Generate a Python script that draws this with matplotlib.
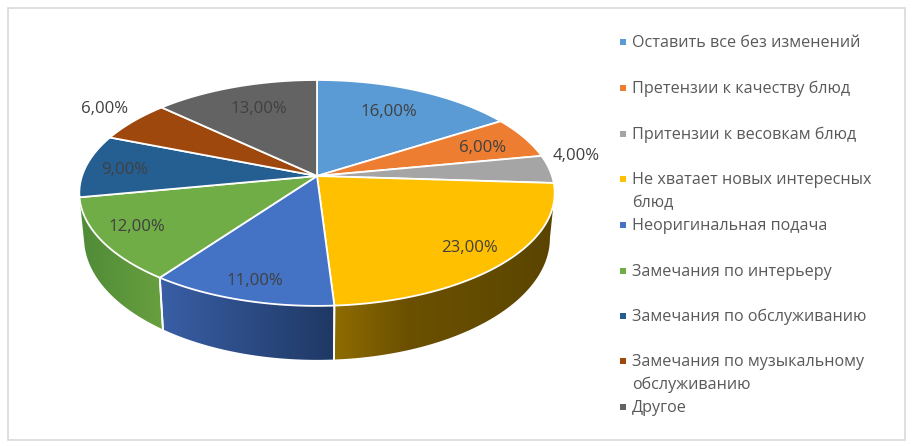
import numpy as np
import matplotlib
matplotlib.use("Agg")
import matplotlib.pyplot as plt
from matplotlib.patches import Rectangle, Polygon
from matplotlib.colors import LinearSegmentedColormap

plt.rcParams['font.family'] = ['Open Sans', 'DejaVu Sans']

categories = ["Оставить все без изменений", "Претензии к качеству блюд", "Притензии к весовкам блюд",
              "Не хватает новых интересных\nблюд", "Неоригинальная подача", "Замечания по интерьеру",
              "Замечания по обслуживанию", "Замечания по музыкальному\nобслуживанию", "Другое"]
values = [16, 6, 4, 23, 11, 12, 9, 6, 13]
colors = ["#5B9BD5", "#ED7D31", "#A5A5A5", "#FFC000", "#4472C4", "#70AD47", "#255E91", "#9E480E", "#636363"]
side_stops = [None, None, None,
              ["#8F6C00", "#6B5000", "#634B00", "#5A4400"],
              ["#3A5FA6", "#1F3864"],
              ["#4F8A37", "#68A03F"],
              None, None, None]
label_pos = [(389, 111), (483, 147), (576, 155), (469, 247), (255, 280), (137, 226), (125, 169), (105, 108), (259, 108)]
legend_y = [42, 88, 134, 179, 225, 271, 316, 361, 407]

CX, CY, RX, RY, K = 317, 176, 235, 110.4, 0.15

def top(theta):
    u, v = np.sin(theta), np.cos(theta)
    d = 1 + K * v
    return CX + RX * u / d, CY - RY * v / d

def bottom(theta):
    x, y = top(theta)
    return CX + 0.98 * (x - CX), CY + 1.08 * (y - CY) + 43.6

fig = plt.figure(figsize=(9.13, 4.46), dpi=100)
ax = fig.add_axes([0, 0, 1, 1])
ax.axis('off')
ax.add_patch(Rectangle((8, 8), 897, 432, fc='white', ec='#D9D9D9', lw=1.2, zorder=0))

edges = np.deg2rad(np.cumsum([0] + values) * 3.6)
vis0, vis1 = np.deg2rad(98.6), np.deg2rad(261.4)

# sides: a horizontal gradient clipped to each slice's outer wall
for i in range(len(values)):
    a0, a1 = max(edges[i], vis0), min(edges[i + 1], vis1)
    if a1 <= a0 or side_stops[i] is None:
        continue
    t = np.linspace(a0, a1, 90)
    xt, yt = top(t)
    xb, yb = bottom(t)
    xs = np.r_[xt, xb[::-1]]
    ys = np.r_[yt, yb[::-1]]
    cmap = LinearSegmentedColormap.from_list(f"side{i}", side_stops[i])
    im = ax.imshow(np.linspace(0, 1, 256)[None, :], cmap=cmap, aspect='auto', interpolation='bilinear',
                   extent=(xs.min(), xs.max(), ys.max(), ys.min()), zorder=1)
    clip = Polygon(np.column_stack([xs, ys]), closed=True, fc='none', ec='none', transform=ax.transData)
    ax.add_patch(clip)
    im.set_clip_path(clip)
    for a in (a0, a1):
        if vis0 + 0.01 < a < edges[6] - 0.01:
            xa, ya = top(a)
            xc, yc = bottom(a)
            ax.plot([xa, xc], [ya, yc], color='white', lw=1.3, zorder=2)

ax.set_xlim(0, 913)
ax.set_ylim(446, 0)

# top face
for i in range(len(values)):
    t = np.linspace(edges[i], edges[i + 1], 80)
    x, y = top(t)
    pts = np.column_stack([np.r_[CX, x], np.r_[CY, y]])
    ax.add_patch(Polygon(pts, closed=True, fc=colors[i], ec='white', lw=1.3, joinstyle='round', zorder=3))

# data labels
for v, (lx, ly) in zip(values, label_pos):
    ax.text(lx, ly + 1, f"{v},00%", ha='center', va='center', fontsize=12.1, color='#404040', zorder=5)

# legend
for cat, col, ly in zip(categories, colors, legend_y):
    ax.add_patch(Rectangle((619.5, ly - 3), 6, 6, fc=col, ec='none', zorder=5))
    for n, line in enumerate(cat.split("\n")):
        ax.text(632, ly + 1 + n * 23, line, ha='left', va='center', fontsize=11.6, color='#595959', zorder=5)

fig.savefig("out.png", dpi=100)
